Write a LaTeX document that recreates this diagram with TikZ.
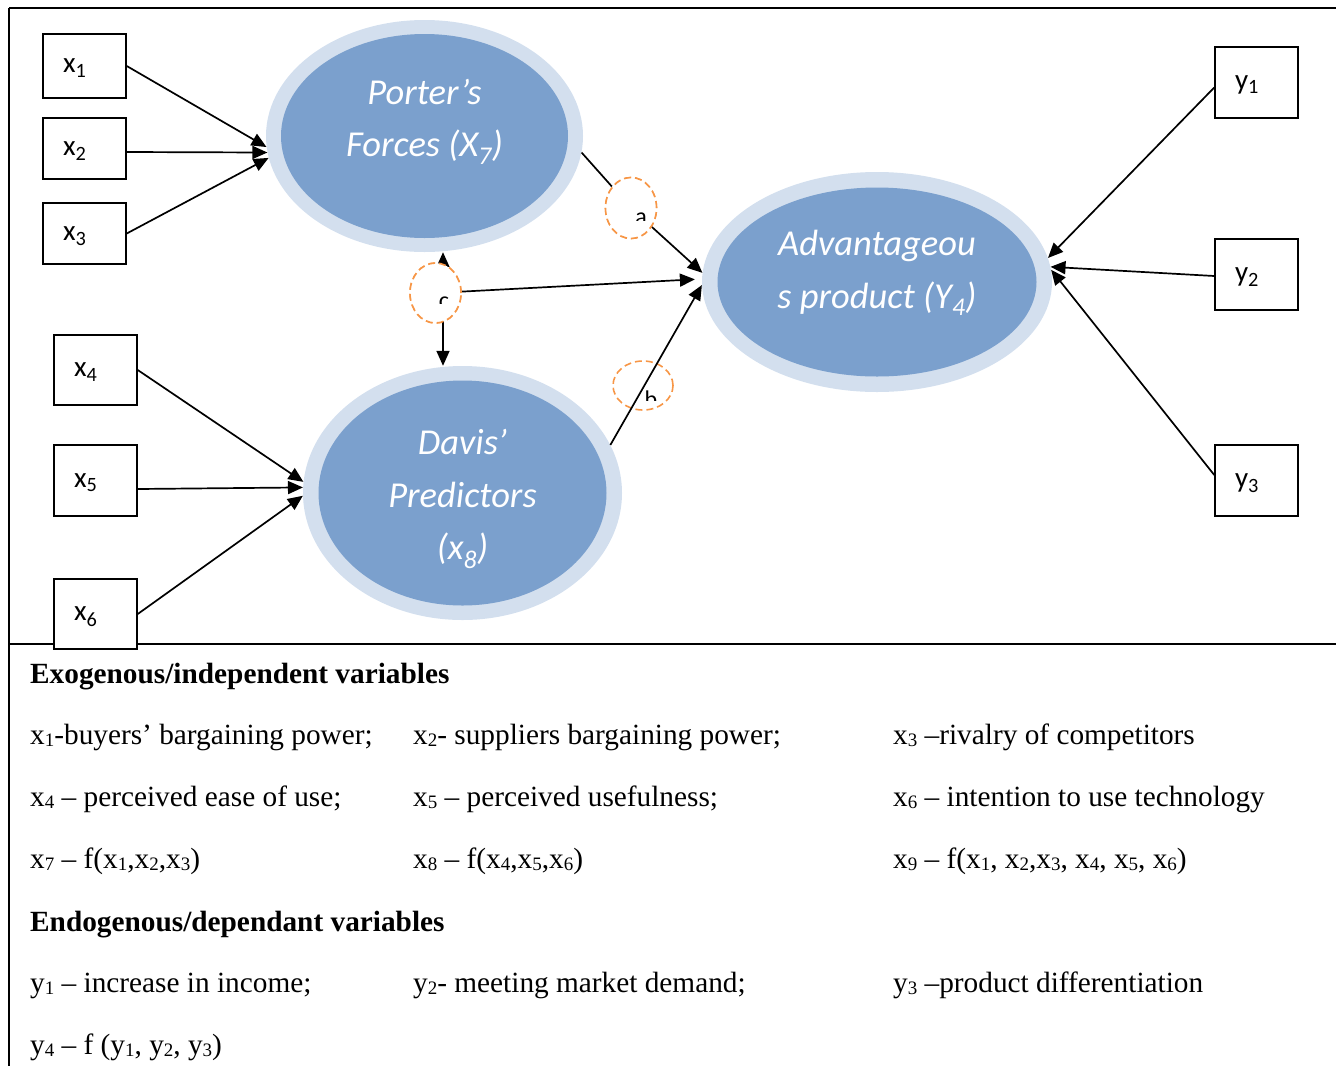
\documentclass[tikz,border=0pt]{standalone}
\usepackage{fontspec}
\setmainfont{Liberation Serif}
\newfontfamily\diagfont{Carlito}
\usetikzlibrary{shapes.geometric,arrows.meta}

\definecolor{ringblue}{HTML}{D3DFEE}
\definecolor{coreblue}{HTML}{7BA0CD}
\definecolor{dashorange}{HTML}{F79646}

% small index digits for the key, set close to the baseline
\newcommand{\ix}[1]{\raisebox{-0.1em}{\fontsize{19}{19}\selectfont #1}}

\begin{document}
\begin{tikzpicture}[x=1pt,y=-1pt,
  frame/.style={line width=1.6pt},
  varbox/.style={draw, line width=1.5pt, fill=white, inner xsep=20pt, inner ysep=0pt,
    text width=43pt, text depth=0pt, align=left, font=\diagfont\fontsize{29}{30}\selectfont},
  ring/.style={ellipse, fill=ringblue, inner sep=0pt},
  core/.style={ellipse, fill=coreblue, inner sep=0pt},
  bigtext/.style={align=center, text=white, font=\diagfont\itshape\fontsize{36.5}{52.5}\selectfont},
  arr/.style={-{Triangle[length=15pt,width=13pt]}, line width=1.7pt},
  link/.style={line width=1.7pt},
  pathmark/.style={ellipse, draw=dashorange, dashed, dash pattern=on 7pt off 4pt,
    line width=1.6pt, inner sep=0pt},
  marklabel/.style={font=\diagfont\fontsize{24}{24}\selectfont, inner sep=0pt, anchor=base},
  legend/.style={anchor=base west, inner sep=0pt, font=\fontsize{29.3}{30}\selectfont},
  legendhead/.style={legend, font=\bfseries\fontsize{29.3}{30}\selectfont}]

\useasboundingbox (0,0) rectangle (1336,1066);

% outer frame and divider between diagram and key
\draw[frame] (9,8) -- (1336,8);
\draw[frame] (9,8) -- (9,1066);
\draw[frame] (9,644) -- (1336,644);

% latent constructs
\node[ring, minimum width=317pt, minimum height=232pt] (porter) at (424.5,136) {};
\node[core, minimum width=287pt, minimum height=204pt] (portercore) at (porter) {};
\node[bigtext] (portertext) at (424.5,122) {Porter’s\\Forces (X\textsubscript{7})};

\node[ring, minimum width=319pt, minimum height=254pt] (davis) at (462.5,493) {};
\node[core, minimum width=288pt, minimum height=225pt] (daviscore) at (davis) {};
\node[bigtext] (davistext) at (462.5,499) {Davis’\\Predictors\\(x\textsubscript{8})};

\node[ring, minimum width=350pt, minimum height=220pt] (adv) at (877,282) {};
\node[core, minimum width=319pt, minimum height=189pt] (advcore) at (adv) {};
\node[bigtext] (advtext) at (877,273) {Advantageou\\s product (Y\textsubscript{4})};

% observed indicators
\node[varbox, minimum height=64pt] (x1) at (84.5,66) {x\textsubscript{1}};
\node[varbox, minimum height=61pt] (x2) at (84.5,148.5) {x\textsubscript{2}};
\node[varbox, minimum height=61pt] (x3) at (84.5,233.5) {x\textsubscript{3}};
\node[varbox, minimum height=70pt] (x4) at (95.5,370) {x\textsubscript{4}};
\node[varbox, minimum height=71pt] (x5) at (95.5,480.5) {x\textsubscript{5}};
\node[varbox, minimum height=70pt] (x6) at (95.5,614) {x\textsubscript{6}};
\node[varbox, minimum height=71pt] (y1) at (1256.5,82.5) {y\textsubscript{1}};
\node[varbox, minimum height=71pt] (y2) at (1256.5,274.5) {y\textsubscript{2}};
\node[varbox, minimum height=71pt] (y3) at (1256.5,480.5) {y\textsubscript{3}};

% indicator loadings
\draw[arr] (x1.east) -- (porter.184);
\draw[arr] ([yshift=-3.5pt]x2.east) -- (porter.186);
\draw[arr] (x3.east) -- (porter.188);
\draw[arr] (x4.east) -- (davis.176);
\draw[arr] ([yshift=-8.5pt]x5.east) -- (davis.178.5);
\draw[arr] (x6.east) -- (davis.181);
\draw[arr] ([yshift=-5pt]y1.west) -- (adv.8);
\draw[arr] ([yshift=-1.5pt]y2.west) -- (adv.5.5);
\draw[arr] ([yshift=5.5pt]y3.west) -- (adv.4.5);

% structural paths a, b, c
\coordinate (cline) at (443,0);
\node[pathmark, minimum width=51pt, minimum height=61pt] (pa) at (631,208) {};
\node[pathmark, minimum width=51pt, minimum height=60pt] (pc) at (435.5,293) {};
\node[pathmark, minimum width=60pt, minimum height=49pt] (pb) at (643,385.5) {};

\draw[link] (porter.354) -- (pa);
\draw[arr] (pa) -- (adv.177.5);
\draw[arr] (davis.18.4) -- (adv.181);
\draw[arr] (pc.center -| cline) -- (porter.south -| cline);
\draw[arr] (pc.center -| cline) -- (davis.north -| cline);
\draw[arr, shorten >=7pt] (pc) -- (adv.179);

% markers a and c cover the lines they sit on
\node[pathmark, fill=white, minimum width=51pt, minimum height=61pt] (pafill) at (pa) {};
\node[pathmark, fill=white, minimum width=51pt, minimum height=60pt] (pcfill) at (pc) {};

% path letters, only their upper part shows
\begin{scope}
  \clip (620,200) rectangle (660,220);
  \node[marklabel] (la) at (641,224) {a};
\end{scope}
\begin{scope}
  \clip (425,285) rectangle (460,303);
  \node[marklabel] (lc) at (444,308) {c};
\end{scope}
\begin{scope}
  \clip (635,380) rectangle (670,400);
  \node[marklabel] (lb) at (651,407) {b};
\end{scope}

% key
\node[legendhead] (h1) at (30,683) {Exogenous/independent variables};
\node[legend] (k1) at (30,744) {x\ix{1}-buyers’ bargaining power;};
\node[legend] (k2) at (413,744) {x\ix{2}- suppliers bargaining power;};
\node[legend] (k3) at (893,744) {x\ix{3} –rivalry of competitors};
\node[legend] (k4) at (30,806) {x\ix{4} – perceived ease of use;};
\node[legend] (k5) at (413,806) {x\ix{5} – perceived usefulness;};
\node[legend] (k6) at (893,806) {x\ix{6} – intention to use technology};
\node[legend] (k7) at (30,868) {x\ix{7} – f(x\ix{1},x\ix{2},x\ix{3})};
\node[legend] (k8) at (413,868) {x\ix{8} – f(x\ix{4},x\ix{5},x\ix{6})};
\node[legend] (k9) at (893,868) {x\ix{9} – f(x\ix{1}, x\ix{2},x\ix{3}, x\ix{4}, x\ix{5}, x\ix{6})};
\node[legendhead] (h2) at (30,931) {Endogenous/dependant variables};
\node[legend] (e1) at (30,992) {y\ix{1} – increase in income;};
\node[legend] (e2) at (413,992) {y\ix{2}- meeting market demand;};
\node[legend] (e3) at (893,992) {y\ix{3} –product differentiation};
\node[legend] (e4) at (30,1054) {y\ix{4} – f (y\ix{1}, y\ix{2}, y\ix{3})};

\end{tikzpicture}
\end{document}
